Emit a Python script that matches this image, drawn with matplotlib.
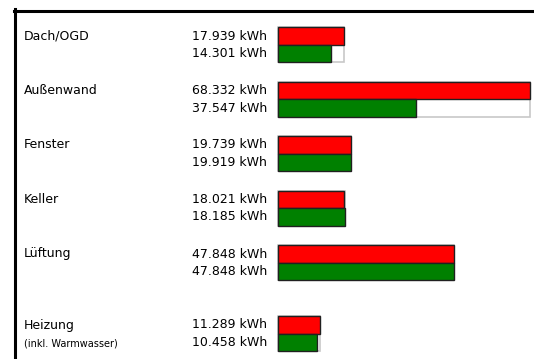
import matplotlib
matplotlib.use('Agg')
import matplotlib.pyplot as plt
import matplotlib.transforms as mtransforms
from matplotlib.lines import Line2D

categories = ['Dach/OGD', 'Außenwand', 'Fenster', 'Keller', 'Lüftung', 'Heizung']
sublabels = ['', '', '', '', '', '(inkl. Warmwasser)']
values_red = [17939, 68332, 19739, 18021, 47848, 11289]
values_green = [14301, 37547, 19919, 18185, 47848, 10458]

W, H = 534, 359
fig = plt.figure(figsize=(W / 100, H / 100), dpi=100)
ax = fig.add_axes([0, 0, 1, 1])
ax.set_axis_off()

# x in kWh, y in pixel rows from the top
px_per_kwh = 252 / 68332
x0 = 278
ax.set_xlim(-x0 / px_per_kwh, (W - x0) / px_per_kwh)
ax.set_ylim(H, 0)

row_step = 54.5
tops = [27 + i * row_step + (16.5 if i == 5 else 0) for i in range(len(categories))]
red_y = [t + 9 for t in tops]
green_y = [t + 26.5 for t in tops]
box_y = [t + 17.5 for t in tops]
box_w = [max(r, g) for r, g in zip(values_red, values_green)]

ax.barh(box_y, box_w, height=35, left=0, color='white', edgecolor='#c8c8c8', linewidth=1.2)
ax.barh(red_y, values_red, height=17.5, color='#ff0000', edgecolor='#202020', linewidth=1.0)
ax.barh(green_y, values_green, height=17.5, color='#008000', edgecolor='#202020', linewidth=1.0)

trans = mtransforms.blended_transform_factory(ax.transAxes, ax.transData)

def fmt(v):
    return f"{v:,}".replace(",", ".") + " kWh"

for i, cat in enumerate(categories):
    ax.text(24 / W, red_y[i], cat, transform=trans, ha='left', va='center',
            fontsize=9, family='DejaVu Sans')
    if sublabels[i]:
        ax.text(24 / W, green_y[i] + 1, sublabels[i], transform=trans, ha='left',
                va='center', fontsize=7, family='DejaVu Sans')
    ax.text(267 / W, red_y[i], fmt(values_red[i]), transform=trans, ha='right',
            va='center', fontsize=9, family='DejaVu Sans')
    ax.text(267 / W, green_y[i], fmt(values_green[i]), transform=trans, ha='right',
            va='center', fontsize=9, family='DejaVu Sans')

# panel border (top and left only)
fig.add_artist(Line2D([14 / W, 1], [1 - 10.5 / H, 1 - 10.5 / H], color='black',
                      linewidth=2.2, transform=fig.transFigure))
fig.add_artist(Line2D([15 / W, 15 / W], [0, 1 - 9 / H], color='black',
                      linewidth=2.2, transform=fig.transFigure))

fig.savefig('out.png', dpi=100)
